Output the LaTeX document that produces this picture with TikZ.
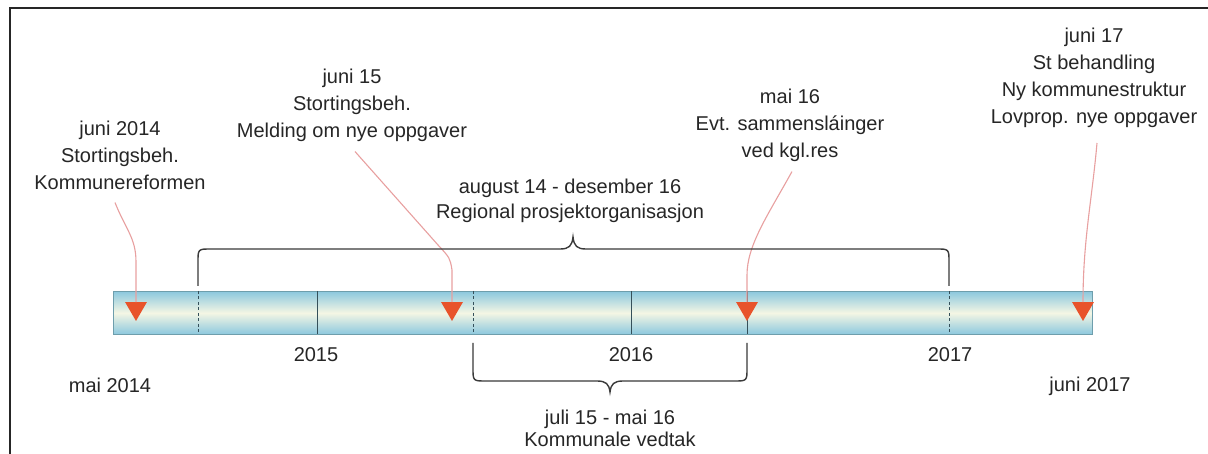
\documentclass[tikz,border=0pt]{standalone}
\usepackage{fontspec}
\setmainfont{Liberation Sans}
\usetikzlibrary{shapes.geometric}
\definecolor{txt}{HTML}{262626}
\definecolor{pinkline}{HTML}{E8A0A0}
\definecolor{arrowred}{HTML}{E8532B}
\definecolor{bracecol}{HTML}{3A3A3A}
\definecolor{tickcol}{HTML}{35505A}
\definecolor{barblue}{HTML}{8CC8DE}
\definecolor{barmid}{HTML}{F4F6E4}
\definecolor{baredge}{HTML}{6E9EAC}
\begin{document}
\begin{tikzpicture}[x=1pt,y=-1pt,
  lbl/.style={align=center, font=\fontsize{20}{27}\selectfont, text=txt, inner sep=0pt},
  conn/.style={draw=pinkline, line width=1.1pt},
  brace/.style={draw=bracecol, line width=1.4pt},
  tickline/.style={draw=tickcol, line width=0.9pt},
  dtick/.style={tickline, dash pattern=on 3pt off 2.5pt},
  arrowhd/.style={regular polygon, regular polygon sides=3, shape border rotate=180,
    fill=arrowred, draw=none, minimum size=25pt, inner sep=0pt}
]
\useasboundingbox (0,0) rectangle (1208,454);
\fill[white] (0,0) rectangle (1208,454);
% frame
\draw[line width=2.6pt, black!85] (10,454) -- (10,8) -- (1208,8);

% bar
\node[draw=baredge, line width=0.8pt, minimum width=979pt, minimum height=43pt, inner sep=0pt,
  top color=barblue, bottom color=barblue, middle color=barmid, anchor=north west] (bar) at (113,291) {};

% ticks
\draw[dtick] (198,291) -- (198,334);
\draw[tickline] (317,291) -- (317,334);
\draw[dtick] (473,291) -- (473,334);
\draw[tickline] (631,291) -- (631,334);
\draw[tickline] (747,291) -- (747,334);
\draw[dtick] (949,291) -- (949,334);

% arrowheads
\node[arrowhd] (a1) at (136,308.5) {};
\node[arrowhd] (a2) at (452,308.5) {};
\node[arrowhd] (a3) at (747,308.5) {};
\node[arrowhd] (a4) at (1083,308.5) {};

% labels
\node[lbl] (t1) at (120,155) {juni 2014\\Stortingsbeh.\\Kommunereformen};
\node[lbl] (t2) at (352,105) {juni 15\\Stortingsbeh.\\Melding om nye oppgaver};
\node[lbl] (t4) at (790,125) {mai 16\\Evt. sammensláinger\\ved kgl.res};
\node[lbl] (t5) at (1094,78) {juni 17\\St behandling\\Ny kommunestruktur\\Lovprop. nye oppgaver};
\node[lbl, font=\fontsize{20}{25}\selectfont] (t3) at (570,201) {august 14 - desember 16\\Regional prosjektorganisasjon};
\node[lbl, font=\fontsize{20}{22}\selectfont] (t6) at (610,428) {juli 15 - mai 16\\Kommunale vedtak};
\node[lbl] (y15) at (316,355) {2015};
\node[lbl] (y16) at (631,355) {2016};
\node[lbl] (y17) at (950,355) {2017};
\node[lbl] (m14) at (110,385) {mai 2014};
\node[lbl] (j17) at (1090,386) {juni 2017};

% connectors
\draw[conn] ([xshift=-5pt,yshift=-13pt]t1.south) .. controls (126,230) and (136,238) .. (136,262) -- (a1.north);
\draw[conn] ([xshift=3pt,yshift=-10pt]t2.south) -- (438,245) .. controls (450,258) .. (452,270) -- (a2.north);
\draw[conn] ([xshift=2pt,yshift=-10pt]t4.south) .. controls (768,215) and (747,245) .. (747,275) -- (a3.north);
\draw[conn] ([xshift=3pt,yshift=-15pt]t5.south) .. controls (1092,200) and (1083,240) .. (a4.north);

% braces
\draw[brace] (198,286) -- (198,262) .. controls (198,249) .. (211,249) -- (560,249)
  .. controls (569,249) and (572,246) .. (573,237) .. controls (574,246) and (577,249) .. (586,249)
  -- (936,249) .. controls (949,249) .. (949,262) -- (949,286);
\draw[brace] (473,343) -- (473,368) .. controls (473,381) .. (486,381) -- (597,381)
  .. controls (606,381) and (609,384) .. (610,392) .. controls (611,384) and (614,381) .. (623,381)
  -- (734,381) .. controls (747,381) .. (747,368) -- (747,343);
\end{tikzpicture}
\end{document}
